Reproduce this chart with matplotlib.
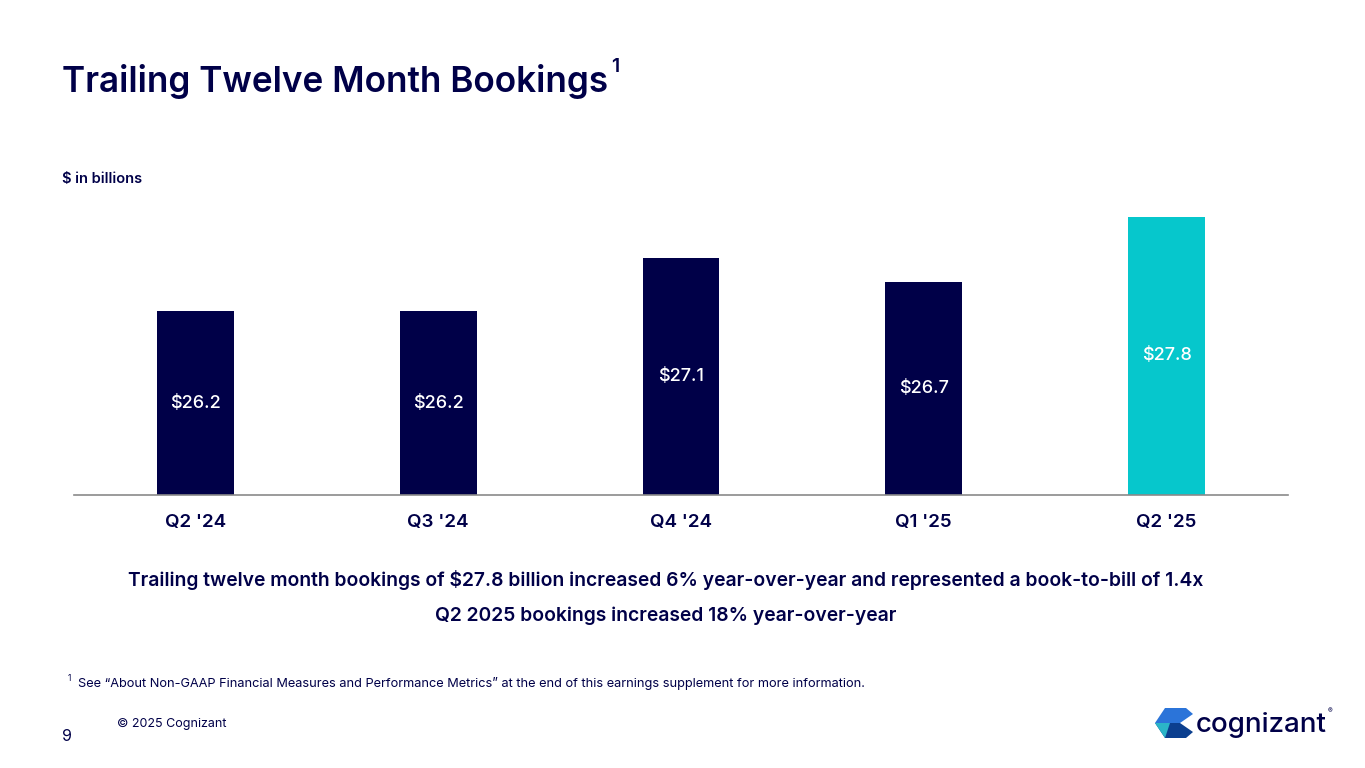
import matplotlib.pyplot as plt
from matplotlib.patches import Polygon

# Data
quarters = ["Q2 '24", "Q3 '24", "Q4 '24", "Q1 '25", "Q2 '25"]
bookings = [26.2, 26.2, 27.1, 26.7, 27.8]
bar_labels = ["$26.2", "$26.2", "$27.1", "$26.7", "$27.8"]

navy = '#000048'
teal = '#06C7CC'
bar_colors = [navy, navy, navy, navy, teal]

plt.rcParams['font.family'] = ['Inter', 'DejaVu Sans']

fig = plt.figure(figsize=(13.65, 7.68), dpi=100)
W, H = 1365, 768


def fx(px):
    return px / W


def fy(py):
    return 1 - py / H


def add_poly(points, color):
    pts = [[fx(a), fy(b)] for a, b in points]
    fig.patches.append(Polygon(pts, closed=True, transform=fig.transFigure,
                               color=color, lw=0))


# Chart area
ax = fig.add_axes([fx(74), fy(495), fx(1288) - fx(74), fy(200) - fy(495)])
ymin, ymax = 23.085, 28.08
x = range(len(quarters))
ax.bar(x, bookings, width=0.317, color=bar_colors, zorder=2)
ax.set_xlim(-0.5, 4.5)
ax.set_ylim(ymin, ymax)

for i, (v, lab) in enumerate(zip(bookings, bar_labels)):
    ax.text(i, (ymin + v) / 2, lab, ha='center', va='center', color='white',
            fontsize=13, fontweight='medium')

for s in ['top', 'right', 'left']:
    ax.spines[s].set_visible(False)
ax.spines['bottom'].set_color('#8a8a8a')
ax.spines['bottom'].set_linewidth(1.2)
ax.set_yticks([])
ax.set_xticks(list(x))
ax.set_xticklabels(quarters, fontsize=13.5, fontweight='semibold', color=navy)
ax.tick_params(axis='x', length=0, pad=14)

# Titles and notes
title = fig.text(fx(62), fy(92), 'Trailing Twelve Month Bookings', fontsize=25.3,
                 fontweight='semibold', color=navy, va='baseline')
fig.canvas.draw()
tb = title.get_window_extent()
fig.text(tb.x1 / W + fx(3), fy(72), '1', fontsize=14, fontweight='semibold',
         color=navy, va='baseline')
fig.text(fx(62), fy(183), '$ in billions', fontsize=10.5, fontweight='semibold', color=navy, va='baseline')

fig.text(fx(666), fy(586), 'Trailing twelve month bookings of $27.8 billion increased 6% year-over-year '
         'and represented a book-to-bill of 1.4x', fontsize=13.9, fontweight='semibold',
         color=navy, ha='center', va='baseline')
fig.text(fx(666), fy(621), 'Q2 2025 bookings increased 18% year-over-year', fontsize=13.9,
         fontweight='semibold', color=navy, ha='center', va='baseline')

fig.text(fx(68), fy(681), '1', fontsize=6, color=navy, va='baseline')
fig.text(fx(78), fy(687), 'See \u201cAbout Non-GAAP Financial Measures and Performance Metrics\u201d '
         'at the end of this earnings supplement for more information.', fontsize=9.2,
         color=navy, va='baseline')

fig.text(fx(117), fy(727), '\u00a9 2025 Cognizant', fontsize=9, color=navy, va='baseline')
fig.text(fx(62), fy(741), '9', fontsize=11.5, color=navy, va='baseline')

# Logo
add_poly([(1155, 723), (1165, 708), (1186, 708), (1193, 714), (1180, 723)], '#2b74d9')
add_poly([(1155, 723), (1180, 723), (1193, 732), (1186, 738), (1165, 738)], '#0b3f8f')
add_poly([(1155, 723), (1170, 723), (1165, 738)], '#2bb5c8')
fig.text(fx(1196), fy(732), 'cognizant', fontsize=20, fontweight='medium', color=navy, va='baseline')
fig.text(fx(1328), fy(713), '\u00ae', fontsize=5, color=navy, va='baseline')

fig.savefig('out.png', dpi=100, facecolor='white')
